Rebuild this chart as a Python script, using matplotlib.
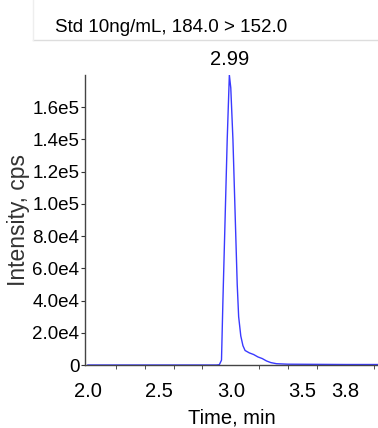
import matplotlib
matplotlib.use("Agg")
import matplotlib.pyplot as plt
from matplotlib.lines import Line2D

plt.rcParams['font.family'] = ['Liberation Sans', 'DejaVu Sans']

# chromatogram trace
time_min = [2.00, 2.50, 2.90, 2.92, 2.935, 2.945, 2.96, 2.975, 2.99, 3.00, 3.015,
            3.03, 3.045, 3.055, 3.07, 3.085, 3.10, 3.13, 3.16, 3.19, 3.22, 3.25,
            3.28, 3.32, 3.40, 3.60, 3.80, 4.03]
intensity = [0, 0, 0, 200, 3000, 40000, 90000, 140000, 180000, 172000, 140000,
             95000, 50000, 30000, 18000, 12000, 9000, 7500, 6500, 5000, 4000, 2500,
             1500, 800, 500, 400, 300, 300]

ytick_vals = [0, 2e4, 4e4, 6e4, 8e4, 1e5, 1.2e5, 1.4e5, 1.6e5]
ytick_text = ["0", "2.0e4", "4.0e4", "6.0e4", "8.0e4", "1.0e5", "1.2e5", "1.4e5", "1.6e5"]
xtick_vals = [2.0, 2.5, 3.0, 3.5, 3.8]
xtick_text = ["2.0", "2.5", "3.0", "3.5", "3.8"]
xminor = [2.0, 2.2, 2.4, 2.6, 2.8, 3.0, 3.2, 3.4, 3.6, 3.8, 4.0]

peak_label = "2.99"
title = "Std 10ng/mL, 184.0 > 152.0"

W, H = 378, 428
fig = plt.figure(figsize=(W / 100, H / 100), dpi=100)
ax = fig.add_axes([85 / W, 1 - 365 / H, (W - 85) / W, (365 - 75) / H])

ax.plot(time_min, intensity, color="#3a3aff", lw=1.0)
ax.set_xlim(1.98, 4.03)
ax.set_ylim(0, 1.8e5)

ax.set_yticks(ytick_vals)
ax.set_yticklabels(ytick_text)
ax.set_xticks(xtick_vals)
ax.set_xticklabels(xtick_text)
ax.set_xticks(xminor, minor=True)
ax.tick_params(axis="x", which="major", length=0, labelsize=14.5, pad=12)
ax.tick_params(axis="x", which="minor", length=3, color="#333333")
ax.tick_params(axis="y", length=3, labelsize=13.5, pad=1, color="#333333")

for s in ["top", "right"]:
    ax.spines[s].set_visible(False)
for s in ["left", "bottom"]:
    ax.spines[s].set_color("#444444")
    ax.spines[s].set_linewidth(1.0)

ax.set_xlabel("Time, min", fontsize=14.5, labelpad=6)
ax.set_ylabel("Intensity, cps", fontsize=16.5, color="#333333", labelpad=2)

ax.annotate(peak_label, xy=(2.99, 1.8e5), xytext=(0, 4), textcoords="offset points",
            ha="center", va="bottom", fontsize=14.5, annotation_clip=False)

fig.text(171 / W, 1 - 27 / H, title, ha="center", va="center", fontsize=13.5)

# panel frame lines
fig.add_artist(Line2D([33 / W, 1], [1 - 40 / H, 1 - 40 / H], color="#dddddd", lw=1))
fig.add_artist(Line2D([33 / W, 33 / W], [1 - 40 / H, 1], color="#eeeeee", lw=1))

fig.savefig("out.png", dpi=100)
